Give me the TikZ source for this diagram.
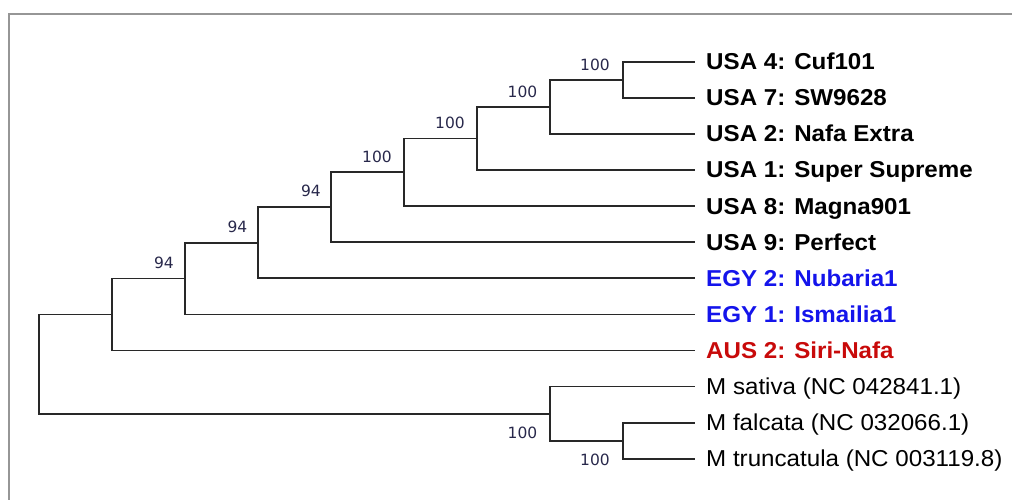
\documentclass[tikz,border=0pt]{standalone}
\usepackage{fontspec}
\setmainfont{Liberation Sans}[FakeStretch=1.05]
\newfontfamily\bsfont{DejaVu Sans}
\definecolor{framecol}{RGB}{150,150,150}
\definecolor{branchcol}{RGB}{40,40,40}
\definecolor{bootcol}{RGB}{40,40,75}
\definecolor{egyblue}{RGB}{20,20,235}
\definecolor{ausred}{RGB}{200,10,10}
\begin{document}
\begin{tikzpicture}[x=1pt,y=-1pt,
  tip/.style={anchor=west,inner sep=0pt,text height=16pt,text depth=0pt,font=\fontsize{23}{23}\selectfont},
  tipb/.style={tip,font=\fontsize{23}{23}\selectfont\bfseries,text=black},
  tipblue/.style={tipb,text=egyblue},
  tipred/.style={tipb,text=ausred},
  tipr/.style={tip,text=black},
  boot/.style={anchor=east,inner sep=0pt,font=\bsfont\fontsize{15.5}{15.5}\selectfont,text=bootcol},
  branch/.style={draw=branchcol,line width=1.7pt,line join=miter,line cap=rect},
  frameline/.style={draw=framecol,line width=2.2pt}]
\useasboundingbox (0,0) rectangle (1012,500);
% frame
\draw[frameline] (1015,14) -- (9,14) -- (9,503);
% tips
\node[tipb]    (t4)  at (706,61.7)  {USA 4: Cuf101};
\node[tipb]    (t7)  at (706,97.8)  {USA 7: SW9628};
\node[tipb]    (t2)  at (706,133.9) {USA 2: Nafa Extra};
\node[tipb]    (t1)  at (706,170.0) {USA 1: Super Supreme};
\node[tipb]    (t8)  at (706,206.1) {USA 8: Magna901};
\node[tipb]    (t9)  at (706,242.2) {USA 9: Perfect};
\node[tipblue] (e2)  at (706,278.3) {EGY 2: Nubaria1};
\node[tipblue] (e1)  at (706,314.4) {EGY 1: Ismailia1};
\node[tipred]  (au)  at (706,350.5) {AUS 2: Siri-Nafa};
\node[tipr]    (ms)  at (706,386.6) {M sativa (NC 042841.1)};
\node[tipr]    (mf)  at (706,422.7) {M falcata (NC 032066.1)};
\node[tipr]    (mt)  at (706,458.8) {M truncatula (NC 003119.8)};
% internal nodes
\coordinate (a)  at (623.3,79.75);
\coordinate (b)  at (550,106.8);
\coordinate (c)  at (476.7,138.4);
\coordinate (d)  at (404,172.3);
\coordinate (e)  at (331,207.2);
\coordinate (f)  at (257.7,242.8);
\coordinate (g)  at (185,278.6);
\coordinate (h)  at (111.7,314.6);
\coordinate (m2) at (623.3,440.8);
\coordinate (m1) at (550,413.7);
\coordinate (r)  at (39,364.1);
% branches
\path[branch] (a) |- ([xshift=-12pt]t4.west);
\path[branch] (a) |- ([xshift=-12pt]t7.west);
\path[branch] (b) |- (a);
\path[branch] (b) |- ([xshift=-12pt]t2.west);
\path[branch] (c) |- (b);
\path[branch] (c) |- ([xshift=-12pt]t1.west);
\path[branch] (d) |- (c);
\path[branch] (d) |- ([xshift=-12pt]t8.west);
\path[branch] (e) |- (d);
\path[branch] (e) |- ([xshift=-12pt]t9.west);
\path[branch] (f) |- (e);
\path[branch] (f) |- ([xshift=-12pt]e2.west);
\path[branch] (g) |- (f);
\path[branch] (g) |- ([xshift=-12pt]e1.west);
\path[branch] (h) |- (g);
\path[branch] (h) |- ([xshift=-12pt]au.west);
\path[branch] (m2) |- ([xshift=-12pt]mf.west);
\path[branch] (m2) |- ([xshift=-12pt]mt.west);
\path[branch] (m1) |- ([xshift=-12pt]ms.west);
\path[branch] (m1) |- (m2);
\path[branch] (r) |- (h);
\path[branch] (r) |- (m1);
% bootstrap values
\node[boot] (ba)  at (610,65)    {100};
\node[boot] (bb)  at (537.5,91.5) {100};
\node[boot] (bc)  at (465,123.3) {100};
\node[boot] (bd)  at (392,156.7) {100};
\node[boot] (be)  at (321,190.7) {94};
\node[boot] (bf)  at (247.5,226.7) {94};
\node[boot] (bg)  at (174,263.3) {94};
\node[boot] (bm1) at (537.5,432.7) {100};
\node[boot] (bm2) at (610,460)   {100};
\end{tikzpicture}
\end{document}
